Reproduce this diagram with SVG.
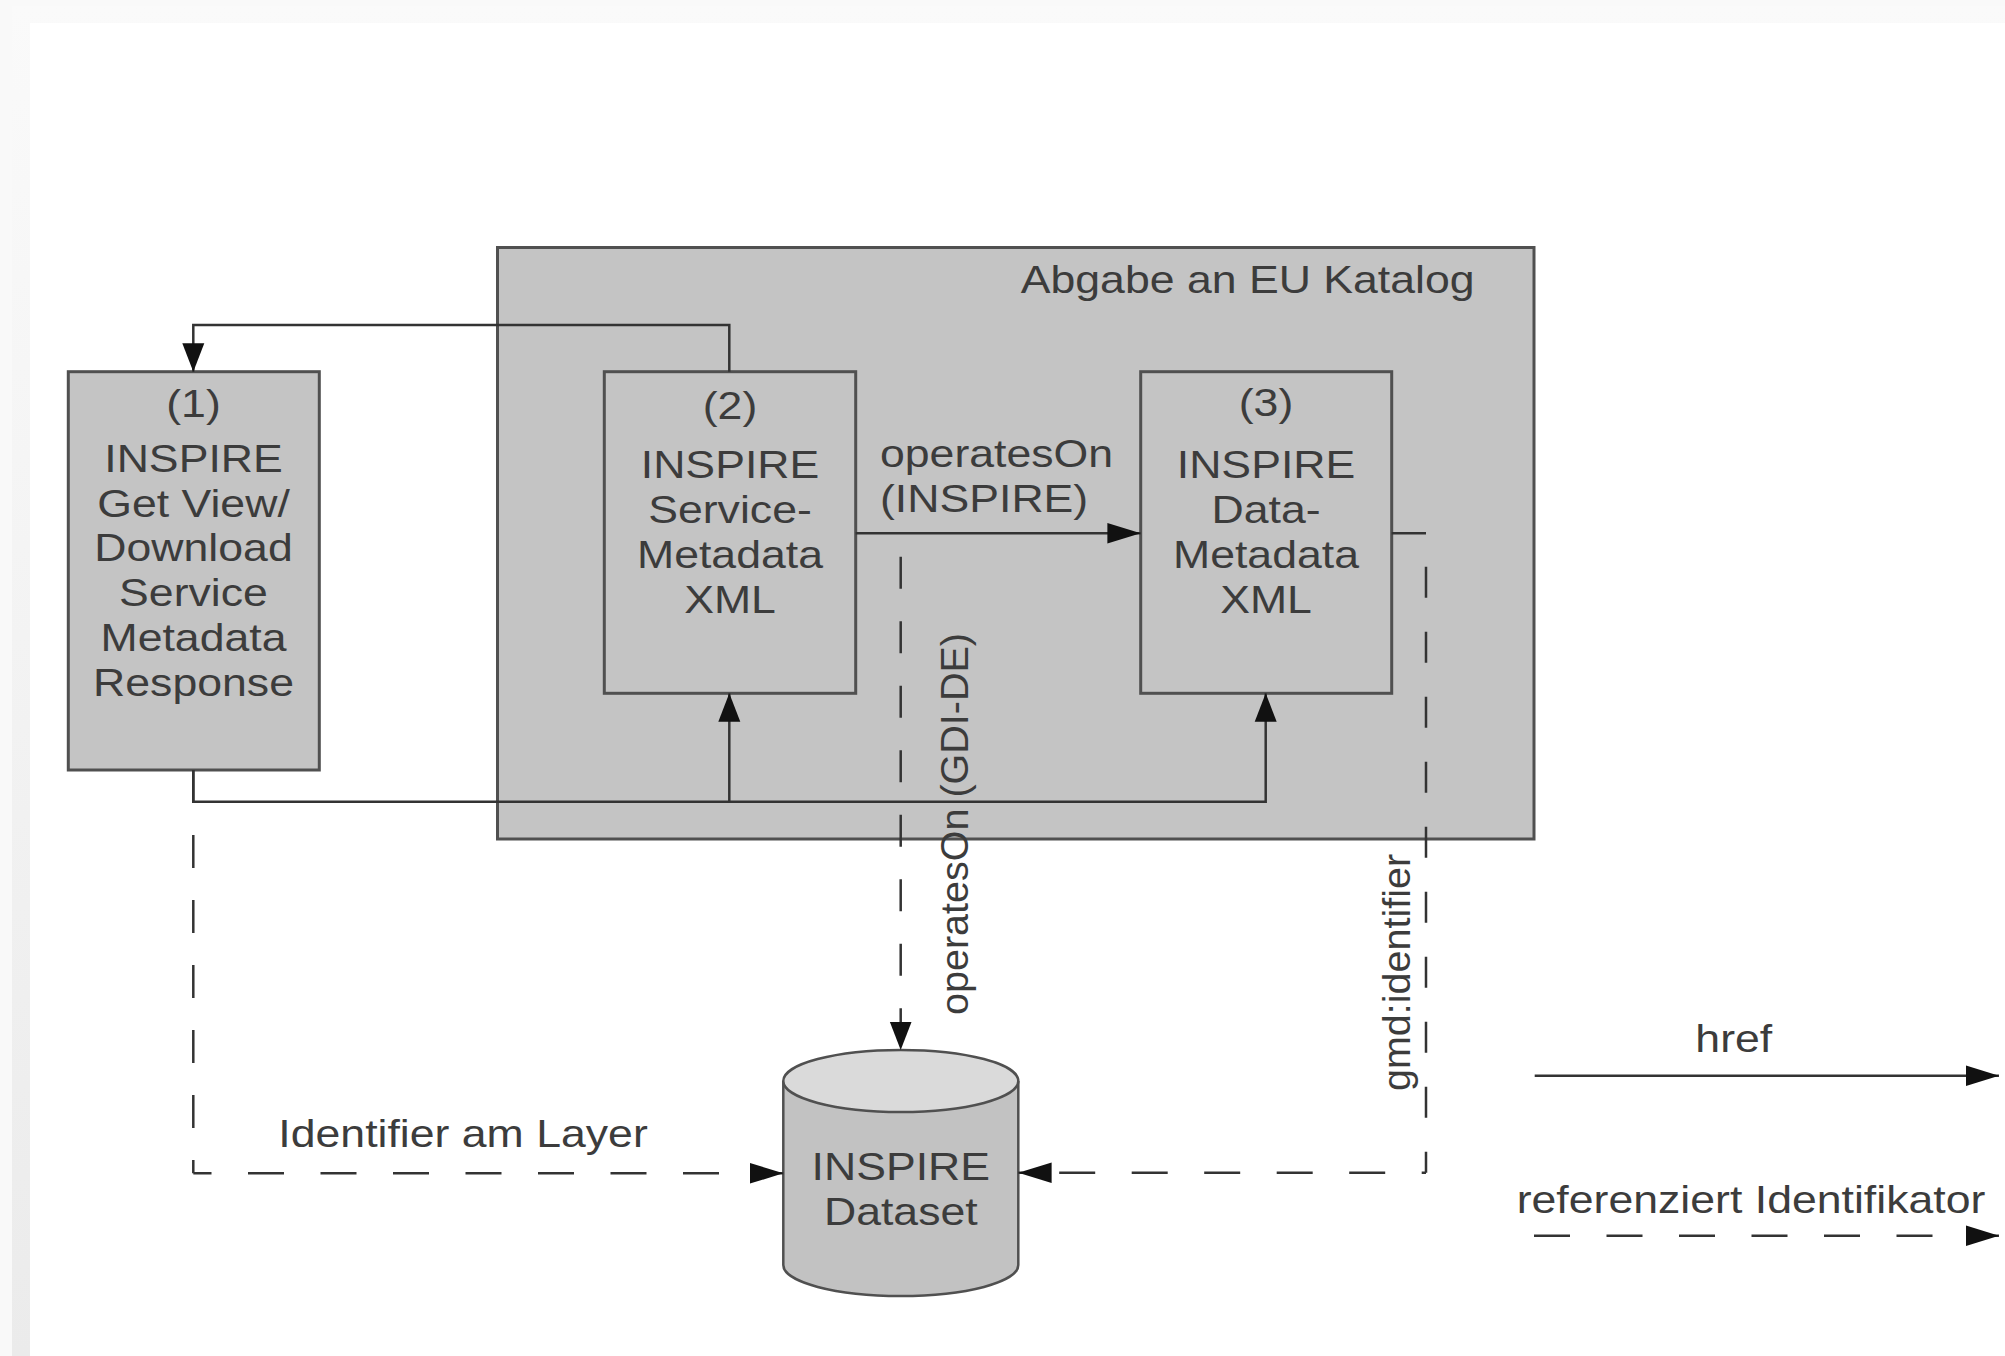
<svg xmlns="http://www.w3.org/2000/svg" width="2005" height="1356" viewBox="0 0 2005 1356">
<style>
.t{font-family:"Liberation Sans",Arial,sans-serif;font-size:39.5px;fill:#3c3c3c}
.m{text-anchor:middle}
.box{fill:#c4c4c4;stroke:#505050;stroke-width:3}
.ln{fill:none;stroke:#333;stroke-width:2.5}
.dv{fill:none;stroke:#333;stroke-width:2.5;stroke-dasharray:32 32.5}
.dh{fill:none;stroke:#333;stroke-width:2.5;stroke-dasharray:36 36.5}
</style>
<defs>
<linearGradient id="topband" x1="0" y1="0" x2="0" y2="1">
<stop offset="0" stop-color="#fafafa"/><stop offset="1" stop-color="#ebebeb"/>
</linearGradient>
<marker id="ah" viewBox="0 -11 34 22" refX="33.3" refY="0" markerWidth="34" markerHeight="22" orient="auto" markerUnits="userSpaceOnUse"><path d="M0,-10.3 L33.3,0 L0,10.3 z" fill="#111"/></marker>
<marker id="av" viewBox="0 -12 29 24" refX="28.5" refY="0" markerWidth="29" markerHeight="24" orient="auto" markerUnits="userSpaceOnUse"><path d="M0,-11 L28.5,0 L0,11 z" fill="#111"/></marker>
</defs>
<rect x="0" y="0" width="2005" height="1356" fill="#f9f9f9"/>
<rect x="12" y="6" width="1993" height="1350" fill="url(#topband)"/>
<rect x="30" y="23" width="1975" height="1333" fill="#ffffff"/>

<g id="container">
<rect class="box" x="497.5" y="247.5" width="1036.5" height="591.5"/>
<text class="t" transform="translate(1020.7,293.3) scale(1.13,1)">Abgabe an EU Katalog</text>
</g>

<g id="node1">
<rect class="box" x="68.3" y="371.7" width="251" height="398.3"/>
<text class="t m" transform="translate(193.5,417) scale(1.13,1)">(1)</text>
<text class="t m" transform="translate(193.5,472) scale(1.13,1)">INSPIRE</text>
<text class="t m" transform="translate(193.5,516.7) scale(1.13,1)">Get View/</text>
<text class="t m" transform="translate(193.5,560.7) scale(1.13,1)">Download</text>
<text class="t m" transform="translate(193.5,605.7) scale(1.13,1)">Service</text>
<text class="t m" transform="translate(193.5,650.7) scale(1.13,1)">Metadata</text>
<text class="t m" transform="translate(193.5,695.7) scale(1.13,1)">Response</text>
</g>

<g id="node2">
<rect class="box" x="604.3" y="371.7" width="251.4" height="321.6"/>
<text class="t m" transform="translate(730,418.5) scale(1.13,1)">(2)</text>
<text class="t m" transform="translate(730,478.3) scale(1.13,1)">INSPIRE</text>
<text class="t m" transform="translate(730,522.8) scale(1.13,1)">Service-</text>
<text class="t m" transform="translate(730,567.5) scale(1.13,1)">Metadata</text>
<text class="t m" transform="translate(730,612.7) scale(1.13,1)">XML</text>
</g>

<g id="node3">
<rect class="box" x="1140.7" y="371.7" width="251" height="321.6"/>
<text class="t m" transform="translate(1266,416) scale(1.13,1)">(3)</text>
<text class="t m" transform="translate(1266,478.3) scale(1.13,1)">INSPIRE</text>
<text class="t m" transform="translate(1266,522.7) scale(1.13,1)">Data-</text>
<text class="t m" transform="translate(1266,567.7) scale(1.13,1)">Metadata</text>
<text class="t m" transform="translate(1266,612.7) scale(1.13,1)">XML</text>
</g>

<g id="dataset">
<path d="M783.3,1081 V1265 A117.5,31 0 0 0 1018.3,1265 V1081" fill="#c2c2c2" stroke="#505050" stroke-width="2.5"/>
<ellipse cx="900.8" cy="1081" rx="117.5" ry="31" fill="#dadada" stroke="#505050" stroke-width="2.5"/>
<text class="t m" transform="translate(900.8,1180) scale(1.13,1)">INSPIRE</text>
<text class="t m" transform="translate(900.8,1225) scale(1.13,1)">Dataset</text>
</g>

<g id="connectors">
<path class="ln" d="M729.3,371.7 V325 H193.3 V371.7" marker-end="url(#av)"/>
<path class="ln" d="M193.3,770 V801.7 H1265.7 V693.3" marker-end="url(#av)"/>
<path class="ln" d="M729.3,801.7 V693.3" marker-end="url(#av)"/>
<path class="ln" d="M855.7,533.3 H1140.7" marker-end="url(#ah)"/>
<path class="ln" d="M1391.7,533.3 H1426"/>
<path class="dv" d="M900.7,556.7 V1050" marker-end="url(#av)"/>
<path class="dv" style="stroke-dasharray:31 34" d="M1426,566.7 V1172.7"/>
<path class="dh" style="stroke-dashoffset:31.7" d="M1426,1172.7 H1018.3" marker-end="url(#ah)"/>
<path class="dv" style="stroke-dasharray:33 32" d="M193.3,770 V1173.3"/>
<path class="dh" style="stroke-dashoffset:17.8" d="M193.3,1173.3 H783.3" marker-end="url(#ah)"/>
<text class="t" transform="translate(880,466.7) scale(1.13,1)">operatesOn</text>
<text class="t" transform="translate(880,511.7) scale(1.13,1)">(INSPIRE)</text>
<text class="t" transform="translate(968.4,1015) rotate(-90)">operatesOn (GDI-DE)</text>
<text class="t" transform="translate(1410,1091) rotate(-90)">gmd:identifier</text>
<text class="t" transform="translate(278.3,1146.7) scale(1.13,1)">Identifier am Layer</text>
</g>

<g id="legend">
<path class="ln" d="M1534.7,1075.7 H1999" marker-end="url(#ah)"/>
<text class="t m" transform="translate(1733.8,1051.7) scale(1.13,1)">href</text>
<path class="dh" d="M1534,1235.7 H1999" marker-end="url(#ah)"/>
<text class="t" transform="translate(1516.7,1213.3) scale(1.13,1)">referenziert Identifikator</text>
</g>
</svg>
